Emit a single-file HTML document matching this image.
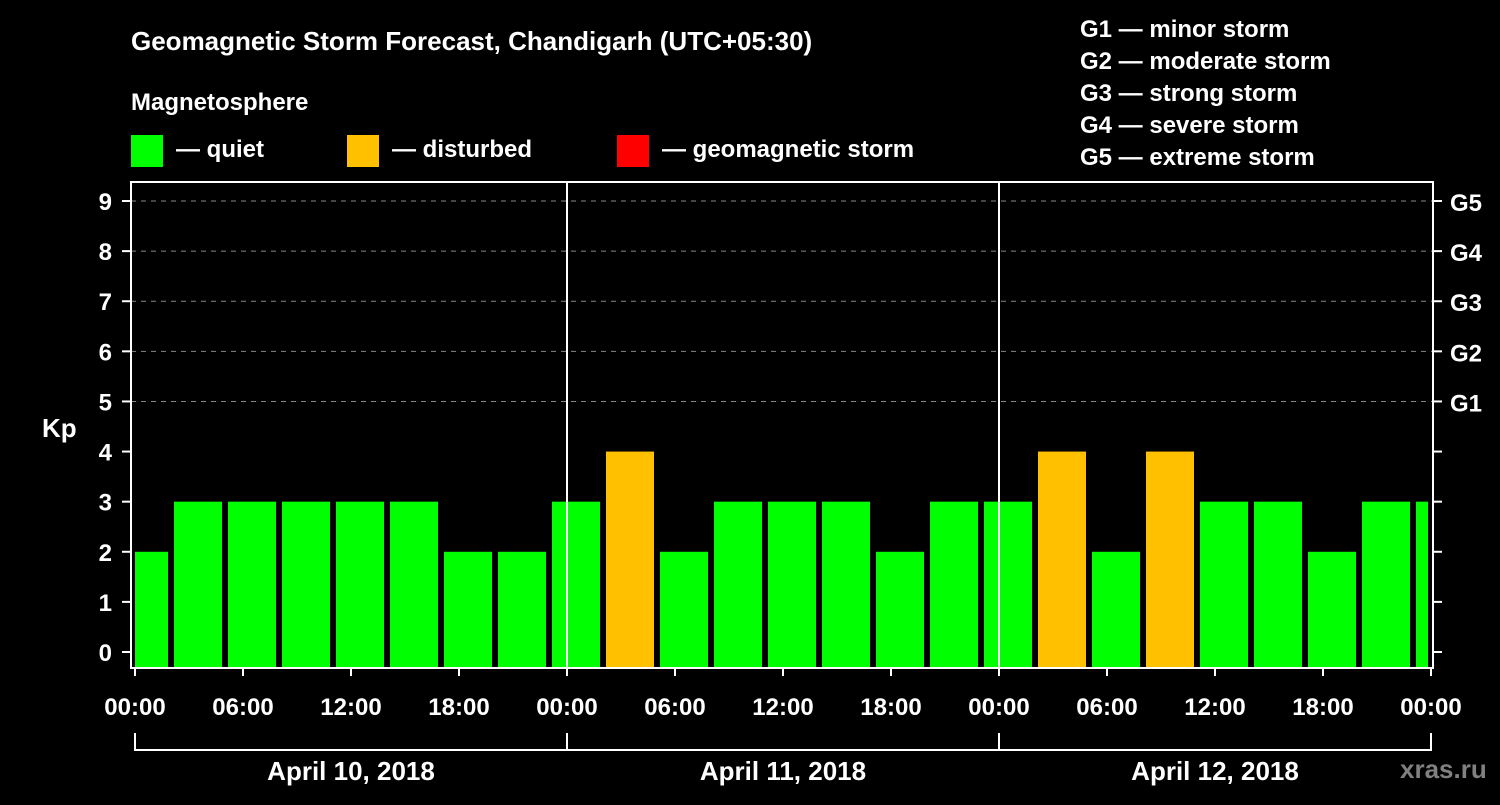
<!DOCTYPE html>
<html><head><meta charset="utf-8"><style>
body{margin:0;background:#000;width:1500px;height:800px;overflow:hidden;font-family:"Liberation Sans",Arial,sans-serif}
svg text{font-family:"Liberation Sans",Arial,sans-serif;font-weight:bold;fill:#fff}
</style></head><body>
<svg id="chart" width="1500" height="800" viewBox="0 0 1500 800">
<text x="131" y="50" font-size="26">Geomagnetic Storm Forecast, Chandigarh (UTC+05:30)</text>
<text x="131" y="110" font-size="24">Magnetosphere</text>
<g>
<rect x="131" y="135" width="32" height="32" fill="#00ff00"/>
<text x="176" y="157" font-size="24">— quiet</text>
<rect x="347" y="135" width="32" height="32" fill="#ffc000"/>
<text x="392" y="157" font-size="24">— disturbed</text>
<rect x="617" y="135" width="32" height="32" fill="#ff0000"/>
<text x="662" y="157" font-size="24">— geomagnetic storm</text>
</g>
<g font-size="24">
<text x="1080" y="37">G1 — minor storm</text>
<text x="1080" y="69">G2 — moderate storm</text>
<text x="1080" y="101">G3 — strong storm</text>
<text x="1080" y="133">G4 — severe storm</text>
<text x="1080" y="165">G5 — extreme storm</text>
</g>
<text x="42" y="437" font-size="26">Kp</text>
<text x="1400" y="778" font-size="26" style="fill:#808080">xras.ru</text>
<g id="plot"></g>
</svg>
<script>
const kpValues=[2,3,3,3,3,3,2,2,3,4,2,3,3,3,2,3,3,4,2,4,3,3,2,3,3];
const startHour=-1; // first interval starts 1h before first midnight
const dayLabels=["April 10, 2018","April 11, 2018","April 12, 2018"];
const xTickLabels=["00:00","06:00","12:00","18:00","00:00","06:00","12:00","18:00","00:00","06:00","12:00","18:00","00:00"];
const yTicks=[0,1,2,3,4,5,6,7,8,9];
const gLabels=["G1","G2","G3","G4","G5"];

const NS="http://www.w3.org/2000/svg";
const g=document.getElementById('plot');
const X0=135,PX_H=18,L=131,R=1433,T=182,B=668;
const xs=h=>X0+h*PX_H;
const ys=v=>652-v*50.11;
function mk(t,a){const e=document.createElementNS(NS,t);for(const k in a)e.setAttribute(k,a[k]);g.appendChild(e);return e;}
// gridlines
yTicks.forEach(v=>{if(v>=5){const l=mk('line',{x1:L,x2:R,y1:ys(v),y2:ys(v),stroke:'#888','stroke-width':1,'stroke-dasharray':'5,5'});

}});
// bars
kpValues.forEach((v,i)=>{
 let a=xs(startHour+i*3)+3,b=xs(startHour+i*3+3)-3;
 a=Math.max(a,X0);b=Math.min(b,R-5);
 const r=mk('rect',{x:a,y:ys(v),width:b-a,height:ys(0)-ys(v)+16,fill:v>=5?'#ff0000':(v>=4?'#ffc000':'#00ff00')});
 
 
});
// day separators
[1,2].forEach(d=>{const l=mk('line',{x1:xs(d*24),x2:xs(d*24),y1:T,y2:B,stroke:'#fff','stroke-width':2});

});
// frame
const f=mk('rect',{x:L,y:T,width:R-L,height:B-T,fill:'none',stroke:'#fff','stroke-width':2});


// y ticks
yTicks.forEach(v=>{
 const y=ys(v);
 mk('line',{x1:122,x2:L,y1:y,y2:y,stroke:'#fff','stroke-width':2});
 mk('line',{x1:R,x2:1442,y1:y,y2:y,stroke:'#fff','stroke-width':2});
 const t=mk('text',{x:112,y:y+9,'font-size':24,'text-anchor':'end'});t.textContent=v;
 
 
 if(v>=5){const gt=mk('text',{x:1450,y:y+10,'font-size':24});gt.textContent=gLabels[v-5];
 
 }
});
// x ticks
xTickLabels.forEach((s,i)=>{
 const x=xs(i*6);
 mk('line',{x1:x,x2:x,y1:B,y2:676,stroke:'#fff','stroke-width':2});
 const t=mk('text',{x:x,y:715,'font-size':24,'text-anchor':'middle'});t.textContent=s;
 
 
});
// day brackets
dayLabels.forEach((s,i)=>{
 const a=xs(i*24),b=xs(i*24+24);
 const p=mk('path',{d:`M${a} 733V750H${b}V733`,fill:'none',stroke:'#fff','stroke-width':2});
 
 
 const t=mk('text',{x:(a+b)/2,y:780,'font-size':26,'text-anchor':'middle'});t.textContent=s;
 
 
});
</script>
</body></html>
